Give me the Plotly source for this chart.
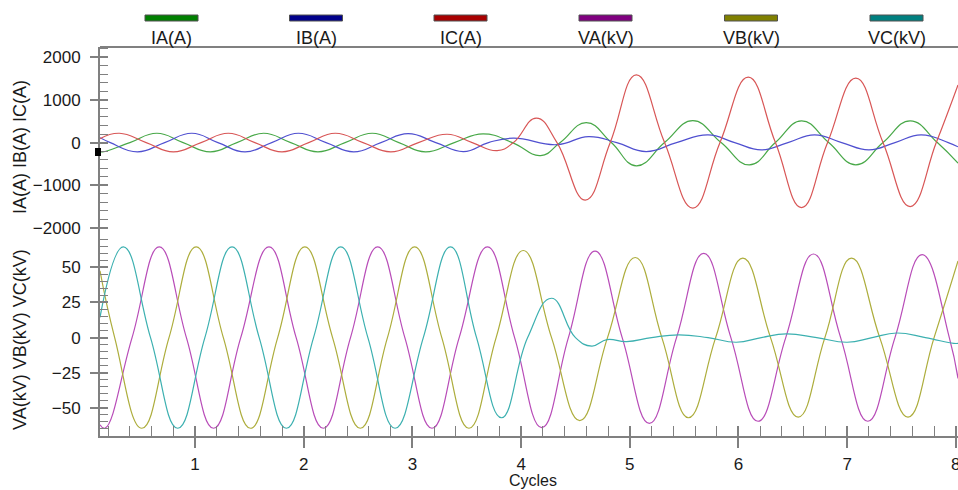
import plotly.graph_objects as go

# ---------------- data (x in cycles) ----------------
IA_t = [0.125, 0.15, 0.40, 0.648, 0.89, 1.14, 1.385, 1.63, 1.88, 2.13, 2.38, 2.63, 2.875, 3.12, 3.385, 3.65,
        3.92, 4.18, 4.36, 4.60, 4.83, 5.06, 5.32, 5.58, 5.84, 6.10, 6.34, 6.58, 6.83, 7.08, 7.33, 7.58, 7.83, 8.02]
IA_v = [-210, -218, 0, 218, 0, -218, 0, 218, 0, -218, 0, 218, 0, -218, 0, 205,
        0, -304, 0, 469, 0, -546, 0, 512, 0, -523, 0, 508, 0, -523, 0, 510, 0, -484]

IB_t = [0.125, 0.22, 0.47, 0.72, 0.97, 1.21, 1.46, 1.705, 1.95, 2.205, 2.46, 2.71, 2.96, 3.215, 3.47, 3.70,
        3.93, 4.33, 4.62, 4.88, 5.15, 5.43, 5.72, 5.965, 6.21, 6.455, 6.70, 6.95, 7.20, 7.44, 7.68, 7.93, 8.02]
IB_v = [115, 0, -218, 0, 218, 0, -218, 0, 218, 0, -218, 0, 210, 0, -210, 0,
        103, -50, 141, 0, -210, 0, 180, 0, -172, 0, 180, 0, -172, 0, 180, 0, -100]

IC_t = [0.125, 0.304, 0.55, 0.80, 1.055, 1.306, 1.55, 1.80, 2.045, 2.29, 2.545, 2.80, 3.055, 3.32, 3.55, 3.78,
        3.93, 4.14, 4.33, 4.59, 4.82, 5.06, 5.32, 5.58, 5.83, 6.09, 6.34, 6.58, 6.82, 7.08, 7.33, 7.58, 7.82, 8.02]
IC_v = [93, 218, 0, -218, 0, 218, 0, -218, 0, 218, 0, -218, 0, 195, 0, -188,
        0, 572, 0, -1348, 0, 1587, 0, -1538, 0, 1532, 0, -1523, 0, 1509, 0, -1500, 0, 1352]

VA_t = [0.125, 0.17, 0.42, 0.67, 0.92, 1.17, 1.42, 1.68, 1.93, 2.18, 2.43, 2.68, 2.93, 3.18, 3.43, 3.69,
        3.94, 4.19, 4.435, 4.68, 4.93, 5.18, 5.43, 5.68, 5.93, 6.18, 6.435, 6.69, 6.94, 7.19, 7.44, 7.69, 7.94, 8.02]
VA_v = [-62, -64.5, 0, 64.5, 0, -64.5, 0, 64.5, 0, -64.5, 0, 64.5, 0, -64.5, 0, 64.5,
        0, -64, 0, 61.5, 0, -61, 0, 60, 0, -59.5, 0, 59.5, 0, -59.5, 0, 59, 0, -29]

VB_t = [0.125, 0.26, 0.51, 0.76, 1.01, 1.26, 1.51, 1.76, 2.01, 2.265, 2.52, 2.77, 3.02, 3.27, 3.52, 3.77,
        4.02, 4.28, 4.54, 4.795, 5.05, 5.295, 5.54, 5.79, 6.04, 6.295, 6.55, 6.795, 7.04, 7.30, 7.56, 7.80, 8.02]
VB_v = [47.5, 0, -64.5, 0, 64.5, 0, -64.5, 0, 64.5, 0, -64.5, 0, 64.5, 0, -64.5, 0,
        62, 0, -59, 0, 57, 0, -57, 0, 56.5, 0, -56.5, 0, 56.5, 0, -56.5, 0, 54.5]

VC_t = [0.125, 0.34, 0.59, 0.84, 1.09, 1.34, 1.59, 1.84, 2.09, 2.34, 2.59, 2.84, 3.10, 3.35, 3.59, 3.82,
        4.06, 4.28, 4.50, 4.65, 4.79, 4.97, 5.20, 5.45, 5.72, 5.98, 6.21, 6.44, 6.72, 7.00, 7.23, 7.455, 7.72, 7.98, 8.02]
VC_v = [14.4, 64.5, 0, -64.5, 0, 64.5, 0, -64.5, 0, 64.5, 0, -64.5, 0, 64.5, 0, -57,
        0, 28, 0, -6, -1.4, -2.8, 0, 2, 0, -3.3, 0, 2.6, 0, -3.3, 0, 3.3, 0, -4.1, -4.1]

series_names = ["IA(A)", "IB(A)", "IC(A)", "VA(kV)", "VB(kV)", "VC(kV)"]
legend_colors = ["#008000", "#00008b", "#a80000", "#800080", "#808000", "#008080"]
line_colors = ["#48a848", "#5050d0", "#d85656", "#b84cb8", "#adad3c", "#3cb0b0"]

current_ticks = [-2000, -1000, 0, 1000, 2000]
voltage_ticks = [-50, -25, 0, 25, 50]
cycle_ticks = [1, 2, 3, 4, 5, 6, 7, 8]

# ---------------- layout geometry ----------------
W, H = 958, 490
L, R, T, B = 100, 0, 47, 54
PW, PH = W - L - R, H - T - B
def px(x): return (x - L) / PW
def py(y): return (H - B - y) / PH
split = py(236)

FONT = "Liberation Sans, Arial, sans-serif"
AX = "#808080"
TXT = "#1a1a1a"

fig = go.Figure()
data = [(IA_t, IA_v, "y2"), (IB_t, IB_v, "y2"), (IC_t, IC_v, "y2"),
        (VA_t, VA_v, "y"), (VB_t, VB_v, "y"), (VC_t, VC_v, "y")]
for (t, v, ya), name, col in zip(data, series_names, line_colors):
    fig.add_trace(go.Scatter(x=t, y=v, mode="lines", name=name, xaxis="x", yaxis=ya,
                             line=dict(color=col, width=1.2, shape="spline", smoothing=1.3),
                             showlegend=False, hoverinfo="skip"))

common_y = dict(showgrid=False, zeroline=False, showline=True, linecolor=AX, linewidth=2,
                ticks="outside", ticklen=8, tickwidth=1.5, tickcolor=AX,
                tickfont=dict(family=FONT, size=17, color=TXT), ticklabelstandoff=6)
fig.update_layout(
    width=W, height=H, margin=dict(l=L, r=R, t=T, b=B, autoexpand=False),
    paper_bgcolor="white", plot_bgcolor="white",
    xaxis=dict(domain=[0, 1], range=[0.125, 8.02], anchor="y", tickvals=cycle_ticks,
               showgrid=False, zeroline=False, showline=True, linecolor=AX, linewidth=2,
               ticks="outside", ticklen=10, tickwidth=1.5, tickcolor=AX,
               minor=dict(ticks="inside", dtick=0.2, tick0=0, ticklen=10, tickwidth=1.2, tickcolor=AX),
               tickfont=dict(family=FONT, size=17, color=TXT), ticklabelstandoff=2,
               ticklabeloverflow="allow"),
    xaxis2=dict(overlaying="x", anchor="y", range=[0.125, 8.02], tickvals=cycle_ticks,
                ticks="inside", ticklen=10, tickwidth=1.5, tickcolor=AX, showticklabels=False,
                showgrid=False, zeroline=False, showline=False, side="bottom"),
    yaxis=dict(domain=[0, split], range=[-70, 72.3], anchor="x", tickvals=voltage_ticks,
               minor=dict(ticks="inside", dtick=5, tick0=0, ticklen=8, tickwidth=1.2, tickcolor=AX),
               **common_y),
    yaxis2=dict(domain=[split, 1], range=[-2190, 2240], anchor="x", tickvals=current_ticks,
                minor=dict(ticks="inside", dtick=200, tick0=0, ticklen=8, tickwidth=1.2, tickcolor=AX),
                **common_y),
    yaxis3=dict(overlaying="y", anchor="x", range=[-70, 72.3], tickvals=voltage_ticks, side="left",
                ticks="inside", ticklen=8, tickwidth=1.5, tickcolor=AX, showticklabels=False,
                showgrid=False, zeroline=False, showline=False),
    yaxis4=dict(overlaying="y2", anchor="x", range=[-2190, 2240], tickvals=current_ticks, side="left",
                ticks="inside", ticklen=8, tickwidth=1.5, tickcolor=AX, showticklabels=False,
                showgrid=False, zeroline=False, showline=False),
)
# empty traces so the overlay tick axes exist
fig.add_trace(go.Scatter(x=[], y=[], xaxis="x2", yaxis="y3", showlegend=False))
fig.add_trace(go.Scatter(x=[], y=[], xaxis="x", yaxis="y4", showlegend=False))

shapes = [dict(type="line", xref="paper", yref="paper", x0=0, x1=1, y0=1, y1=1,
               line=dict(color=AX, width=2))]
annotations = []
centers = [171.5, 316, 460.5, 605.5, 751, 896.5]
for cx, name, col in zip(centers, series_names, legend_colors):
    shapes.append(dict(type="rect", xref="paper", yref="paper",
                       x0=px(cx - 26.5), x1=px(cx + 26.5), y0=py(21), y1=py(15),
                       fillcolor=col, line=dict(color="#505050", width=1)))
    annotations.append(dict(text=name, xref="paper", yref="paper", x=px(cx), y=py(38),
                            xanchor="center", yanchor="middle", showarrow=False,
                            font=dict(family=FONT, size=18, color=TXT)))
# small cursor marker on the axis
shapes.append(dict(type="rect", xref="paper", yref="paper", x0=px(95), x1=px(101),
                   y0=py(156), y1=py(148), fillcolor="black", line=dict(color="black", width=0)))
annotations += [
    dict(text="IA(A) IB(A) IC(A)", xref="paper", yref="paper", x=px(20), y=py(147),
         textangle=-90, showarrow=False, xanchor="center", yanchor="middle",
         font=dict(family=FONT, size=18, color=TXT)),
    dict(text="VA(kV) VB(kV) VC(kV)", xref="paper", yref="paper", x=px(20), y=py(340),
         textangle=-90, showarrow=False, xanchor="center", yanchor="middle",
         font=dict(family=FONT, size=18, color=TXT)),
    dict(text="Cycles", xref="paper", yref="paper", x=px(533), y=py(481),
         showarrow=False, xanchor="center", yanchor="middle",
         font=dict(family=FONT, size=16, color=TXT)),
]
fig.update_layout(shapes=shapes, annotations=annotations)
fig.write_html("out.html", config={"displayModeBar": False},
               post_script="document.body.style.margin='0';document.body.style.overflow='hidden';")
